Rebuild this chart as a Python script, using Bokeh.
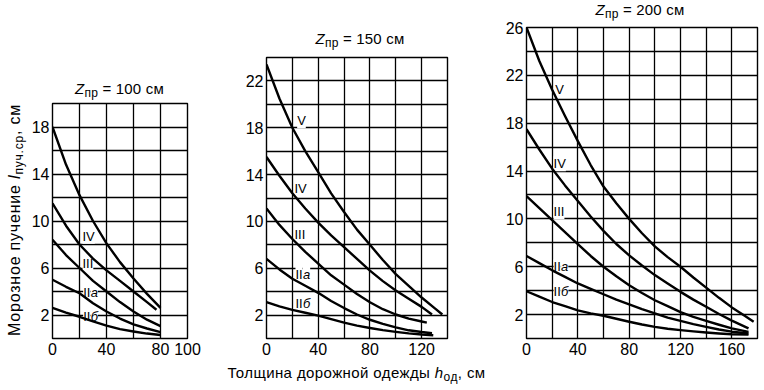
from bokeh.plotting import figure
from bokeh.models import Range1d, FixedTicker, LabelSet, ColumnDataSource, Div
from bokeh.layouts import row, column
from bokeh.core.properties import value
from bokeh.embed import file_html
from bokeh.resources import INLINE

FONT = "Liberation Sans"

# ---------------- data ----------------
# Panel 1: Z_пр = 100 см
p1_x = [0, 10, 20, 30, 40, 50, 60, 70, 80]
p1_x_iv = [0, 10, 20, 30, 40, 50, 60, 70, 77]
p1_V = [18.0, 14.8, 12.2, 10.0, 8.1, 6.5, 5.1, 3.8, 2.6]
p1_IV = [11.5, 9.6, 8.0, 6.8, 5.8, 4.9, 4.0, 3.1, 2.45]
p1_III = [8.4, 7.1, 6.0, 4.9, 4.0, 3.1, 2.3, 1.6, 1.05]
p1_IIa = [5.0, 4.4, 3.85, 3.0, 2.3, 1.7, 1.2, 0.85, 0.55]
p1_IIb = [2.6, 2.2, 1.85, 1.45, 1.1, 0.8, 0.6, 0.42, 0.3]

# Panel 2: Z_пр = 150 см
p2_x_V = [0, 10, 20, 30, 40, 50, 60, 70, 80, 90, 100, 110, 120, 130, 136]
p2_V = [23.4, 20.5, 18.0, 16.0, 14.2, 12.4, 10.8, 9.3, 8.0, 6.7, 5.5, 4.5, 3.5, 2.6, 2.05]
p2_x_IV = [0, 10, 20, 30, 40, 50, 60, 70, 80, 90, 100, 110, 120, 128]
p2_IV = [15.5, 13.9, 12.4, 11.1, 9.9, 8.8, 7.8, 6.8, 5.8, 4.9, 4.1, 3.4, 2.7, 2.05]
p2_x_III = [0, 10, 20, 30, 40, 50, 60, 70, 80, 90, 100, 110, 120, 124]
p2_III = [11.1, 9.7, 8.5, 7.4, 6.4, 5.4, 4.6, 3.8, 3.1, 2.5, 2.05, 1.7, 1.45, 1.35]
p2_x_IIa = [0, 10, 20, 30, 40, 50, 60, 70, 80, 90, 100, 110, 120, 128]
p2_IIa = [6.8, 5.9, 5.1, 4.5, 3.9, 3.2, 2.6, 2.05, 1.6, 1.25, 0.95, 0.7, 0.55, 0.45]
p2_x_IIb = [0, 10, 20, 30, 40, 50, 60, 70, 80, 90, 100, 110, 120, 129]
p2_IIb = [3.1, 2.75, 2.45, 2.2, 1.95, 1.65, 1.35, 1.1, 0.9, 0.72, 0.57, 0.44, 0.34, 0.28]

# Panel 3: Z_пр = 200 см
p3_x_V = [0, 10, 20, 30, 40, 50, 60, 70, 80, 90, 100, 110, 120, 130, 140, 150, 160, 170, 177]
p3_V = [26.0, 23.2, 20.8, 18.6, 16.5, 14.5, 12.7, 11.3, 10.0, 8.8, 7.7, 6.8, 6.0, 5.1, 4.25, 3.4, 2.6, 1.9, 1.4]
p3_x = [0, 10, 20, 30, 40, 50, 60, 70, 80, 90, 100, 110, 120, 130, 140, 150, 160, 173]
p3_IV = [17.5, 15.8, 14.2, 12.8, 11.5, 10.2, 9.0, 7.9, 6.95, 6.1, 5.3, 4.6, 3.9, 3.25, 2.65, 2.05, 1.5, 0.85]
p3_III = [11.9, 10.9, 9.9, 8.9, 7.9, 6.9, 6.0, 5.2, 4.45, 3.8, 3.2, 2.7, 2.2, 1.8, 1.47, 1.15, 0.85, 0.55]
p3_IIa = [6.9, 6.3, 5.7, 5.15, 4.6, 4.15, 3.7, 3.25, 2.85, 2.45, 2.1, 1.75, 1.47, 1.2, 0.97, 0.75, 0.57, 0.42]
p3_IIb = [3.95, 3.5, 3.05, 2.7, 2.35, 2.1, 1.9, 1.65, 1.4, 1.17, 0.97, 0.82, 0.7, 0.6, 0.5, 0.42, 0.36, 0.32]

# curve labels: Roman numeral part and italic letter suffix
p1_lab = ["IV", "III", "II", "II"]
p1_suf = ["", "", "a", "б"]
p1_lab_x = [22.2, 22.2, 22.7, 22.7]
p1_lab_y = [8.7, 6.35, 3.9, 1.9]
p2_lab = ["V", "IV", "III", "II", "II"]
p2_suf = ["", "", "", "a", "б"]
p2_lab_x = [23.7, 21.6, 21.6, 22.4, 22.4]
p2_lab_y = [18.6, 12.8, 8.9, 5.5, 3.0]
p3_lab = ["V", "IV", "III", "II", "II"]
p3_suf = ["", "", "", "a", "б"]
p3_lab_x = [22.4, 21.1, 21.1, 21.1, 21.1]
p3_lab_y = [20.8, 14.6, 10.6, 6.0, 3.95]

# axes
p1_xmax, p1_ymax = 100, 20
p2_xmax, p2_ymax = 140, 24
p3_xmax, p3_ymax = 180, 26
p1_xticks = [0, 40, 80, 100]
p2_xticks = [0, 40, 80, 120]
p3_xticks = [0, 40, 80, 120, 160]
p1_yticks = [2, 6, 10, 14, 18]
p2_yticks = [2, 6, 10, 14, 18, 22]
p3_yticks = [2, 6, 10, 14, 18, 22, 26]
grid_dx = 20
grid_dy = 2

z_values = ["100", "150", "200"]
x_title = ("Толщина дорожной одежды ", "h", "од", ", см")
y_title = ("Морозное пучение ", "l", "пуч.ср", ", см")

# ---------------- helpers ----------------
BASE_CSS = "font-family:'Liberation Sans';color:black;white-space:nowrap;"
SUB_CSS = "font-size:12px;vertical-align:baseline;position:relative;top:3px;"


def title_div(z, width, height, center, top, line_h=16):
    html = (f'<div style="{BASE_CSS}font-size:15px;line-height:{line_h}px;letter-spacing:0.2px;'
            f'display:inline-block;position:relative;left:{center}px;top:{top}px;transform:translateX(-50%);">'
            f'<i>Z</i><span style="{SUB_CSS}">пр</span> = {z} см</div>')
    return Div(text=html, width=width, height=height, margin=0, styles={"overflow": "visible"})


def make_fig(width, height, xmax, ymax, xticks, yticks, ml, mr, mt):
    p = figure(width=width, height=height, x_range=Range1d(0, xmax), y_range=Range1d(0, ymax),
               output_backend="svg", toolbar_location=None, title=None,
               min_border_left=ml, min_border_right=mr, min_border_top=mt, min_border_bottom=22)
    p.background_fill_color = "white"
    p.border_fill_color = "white"
    p.outline_line_color = "black"
    p.outline_line_width = 1.4
    p.outline_line_alpha = 1.0
    p.xgrid.ticker = FixedTicker(ticks=list(range(0, xmax + 1, grid_dx)))
    p.ygrid.ticker = FixedTicker(ticks=list(range(0, ymax + 1, grid_dy)))
    for g in (p.xgrid, p.ygrid):
        g.grid_line_color = "black"
        g.grid_line_width = 1.3
        g.grid_line_alpha = 1.0
    p.xaxis.ticker = FixedTicker(ticks=xticks)
    p.yaxis.ticker = FixedTicker(ticks=yticks)
    for ax in (p.xaxis, p.yaxis):
        ax.axis_line_color = None
        ax.major_tick_line_color = None
        ax.minor_tick_line_color = None
        ax.major_tick_out = 0
        ax.major_tick_in = 0
        ax.minor_tick_out = 0
        ax.minor_tick_in = 0
        ax.major_label_text_font = FONT
        ax.major_label_text_font_size = "16px"
        ax.major_label_text_color = "black"
    p.xaxis.major_label_standoff = 4
    p.yaxis.major_label_standoff = 3
    return p


def add_curve(p, xs, ys):
    p.line(xs, ys, line_color="black", line_width=2.4, line_join="round")


def add_labels(p, names, sufs, xs, ys):
    src = ColumnDataSource(dict(x=xs, y=ys, t=names))
    ls = LabelSet(x="x", y="y", text="t", source=src, text_font=value(FONT), text_font_size=value("13px"),
                  text_align="left", text_baseline="middle", text_color="black",
                  background_fill_color="white", level="underlay")
    p.add_layout(ls)
    sx = [x for x, s in zip(xs, sufs) if s]
    sy = [y for y, s in zip(ys, sufs) if s]
    st = [s for s in sufs if s]
    if st:
        src2 = ColumnDataSource(dict(x=sx, y=sy, t=st))
        ls2 = LabelSet(x="x", y="y", text="t", source=src2, text_font=value(FONT),
                       text_font_size=value("13px"), text_font_style="italic", x_offset=7.5,
                       text_align="left", text_baseline="middle", text_color="black",
                       background_fill_color="white", level="underlay")
        p.add_layout(ls2)


# ---------------- panel 1 ----------------
p1 = make_fig(197, 259, p1_xmax, p1_ymax, p1_xticks, p1_yticks, 21, 38, 2)
add_labels(p1, p1_lab, p1_suf, p1_lab_x, p1_lab_y)
add_curve(p1, p1_x, p1_V)
add_curve(p1, p1_x_iv, p1_IV)
add_curve(p1, p1_x, p1_III)
add_curve(p1, p1_x, p1_IIa)
add_curve(p1, p1_x, p1_IIb)
t1 = title_div(z_values[0], 197, 101, 91.5, 81)

# ---------------- panel 2 ----------------
p2 = make_fig(270, 305, p2_xmax, p2_ymax, p2_xticks, p2_yticks, 41, 48, 2)
add_labels(p2, p2_lab, p2_suf, p2_lab_x, p2_lab_y)
add_curve(p2, p2_x_V, p2_V)
add_curve(p2, p2_x_IV, p2_IV)
add_curve(p2, p2_x_III, p2_III)
add_curve(p2, p2_x_IIa, p2_IIa)
add_curve(p2, p2_x_IIb, p2_IIb)
t2 = title_div(z_values[1], 270, 55, 135, 31)

# ---------------- panel 3 ----------------
p3 = make_fig(267, 340, p3_xmax, p3_ymax, p3_xticks, p3_yticks, 31, 5, 7)
add_labels(p3, p3_lab, p3_suf, p3_lab_x, p3_lab_y)
add_curve(p3, p3_x_V, p3_V)
add_curve(p3, p3_x, p3_IV)
add_curve(p3, p3_x, p3_III)
add_curve(p3, p3_x, p3_IIa)
add_curve(p3, p3_x, p3_IIb)
t3 = title_div(z_values[2], 267, 20, 145, 3, line_h=12)

# ---------------- axis titles ----------------
y_html = (f'<div style="{BASE_CSS}font-size:16px;line-height:18px;letter-spacing:0.8px;display:inline-block;'
          f'transform-origin:0 0;transform:translate(6px,220px) rotate(-90deg) translateX(-50%);">'
          f'{y_title[0]}<i>{y_title[1]}</i><span style="{SUB_CSS}">{y_title[2]}</span>{y_title[3]}</div>')
ydiv = Div(text=y_html, width=28, height=360, margin=0, styles={"overflow": "visible"})

x_html = (f'<div style="{BASE_CSS}font-size:15px;line-height:16px;letter-spacing:0.4px;display:inline-block;'
          f'position:relative;left:356.5px;top:5px;transform:translateX(-50%);">'
          f'{x_title[0]}<i>{x_title[1]}</i><span style="{SUB_CSS}">{x_title[2]}</span>{x_title[3]}</div>')
xdiv = Div(text=x_html, width=762, height=26, margin=0, styles={"overflow": "visible"})

layout = column(row(ydiv, column(t1, p1), column(t2, p2), column(t3, p3)), xdiv)
open("out.html", "w").write(file_html(layout, INLINE))
